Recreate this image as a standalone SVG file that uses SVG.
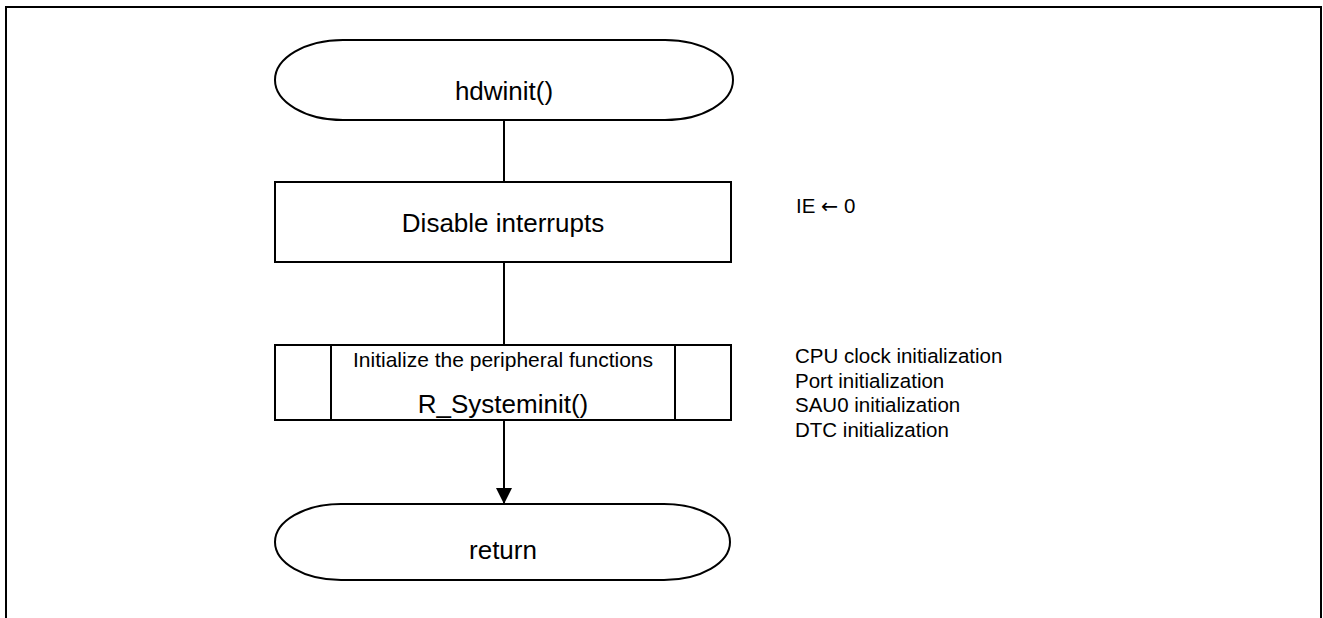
<svg xmlns="http://www.w3.org/2000/svg" width="1323" height="618" viewBox="0 0 1323 618">
<style>
.shape{fill:#fff;stroke:#000;stroke-width:2}
.line{fill:none;stroke:#000;stroke-width:2}
.t{font-family:"Liberation Sans",Arial,sans-serif;fill:#000}
.big{font-size:26px;text-anchor:middle}
.mid{font-size:21px;text-anchor:middle}
.note{font-size:20.5px}
.sym{font-family:"DejaVu Sans",sans-serif}
</style>
<defs>
<marker id="arr" viewBox="0 0 16 16" refX="16" refY="8" markerWidth="16" markerHeight="16" markerUnits="userSpaceOnUse" orient="auto">
<path d="M0,0 L16,8 L0,16 Z" fill="#000"/>
</marker>
</defs>
<rect width="1323" height="618" fill="#fff"/>
<path class="line" d="M6,618 V7 H1321 V618"/>
<g id="connectors">
<line class="line" x1="504" y1="120" x2="504" y2="182"/>
<line class="line" x1="504" y1="262" x2="504" y2="345"/>
<line class="line" x1="504" y1="420" x2="504" y2="504" marker-end="url(#arr)"/>
</g>
<g id="start">
<rect class="shape" x="275" y="40" width="458" height="80" rx="68" ry="40"/>
<text class="t big" x="504" y="100">hdwinit()</text>
</g>
<g id="disable">
<rect class="shape" x="275" y="182" width="456" height="80"/>
<text class="t big" x="503" y="232">Disable interrupts</text>
</g>
<g id="note-ie">
<text class="t note" x="796" y="213">IE <tspan class="sym">←</tspan> 0</text>
</g>
<g id="sysinit">
<rect class="shape" x="275" y="345" width="456" height="75"/>
<line class="line" x1="331" y1="345" x2="331" y2="420"/>
<line class="line" x1="675" y1="345" x2="675" y2="420"/>
<text class="t mid" x="503" y="367">Initialize the peripheral functions</text>
<text class="t big" x="503" y="413">R_Systeminit()</text>
</g>
<g id="note-init">
<text class="t note" x="795" y="363">CPU clock initialization</text>
<text class="t note" x="795" y="387.5">Port initialization</text>
<text class="t note" x="795" y="412">SAU0 initialization</text>
<text class="t note" x="795" y="436.5">DTC initialization</text>
</g>
<g id="return">
<rect class="shape" x="275" y="504" width="455" height="76" rx="66" ry="38"/>
<text class="t big" x="503" y="559">return</text>
</g>
</svg>
